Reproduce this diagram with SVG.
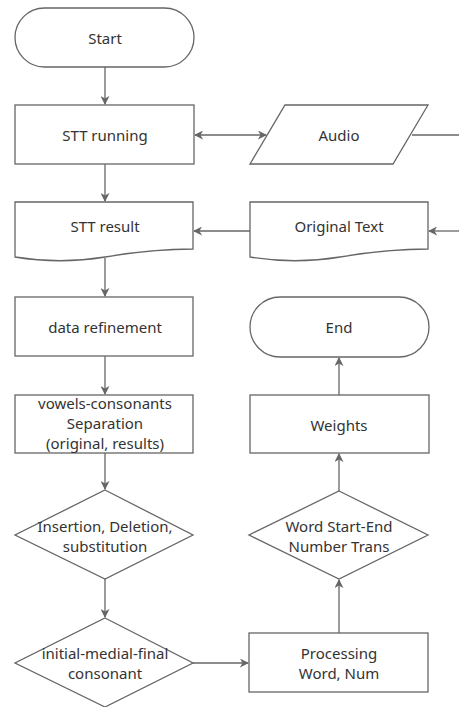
<svg xmlns="http://www.w3.org/2000/svg" width="459" height="707" viewBox="0 0 459 707">
<style>
.s{fill:#fff;stroke:#666;stroke-width:1.3}
.t{font-family:"Noto Sans",sans-serif;font-size:15px;fill:#333;text-anchor:middle;dominant-baseline:central}
.c{fill:none;stroke:#666;stroke-width:1.3}
</style>
<defs>
<marker id="a" viewBox="0 0 10 10" refX="9" refY="5" markerWidth="9" markerHeight="9" markerUnits="userSpaceOnUse" orient="auto-start-reverse">
<path d="M0,0 L10,5 L0,10 L3,5 Z" fill="#666"/>
</marker>
</defs>
<rect width="459" height="707" fill="#fff"/>
<g id="connectors">
<path class="c" d="M105,67 V104" marker-end="url(#a)"/>
<path class="c" d="M195,135 H266" marker-start="url(#a)" marker-end="url(#a)"/>
<path class="c" d="M412,135 H459"/>
<path class="c" d="M459,231 H429" marker-end="url(#a)"/>
<path class="c" d="M250,231 H194" marker-end="url(#a)"/>
<path class="c" d="M105,164 V201" marker-end="url(#a)"/>
<path class="c" d="M105,258 V296" marker-end="url(#a)"/>
<path class="c" d="M105,356 V394" marker-end="url(#a)"/>
<path class="c" d="M105,453 V489" marker-end="url(#a)"/>
<path class="c" d="M105,579 V617" marker-end="url(#a)"/>
<path class="c" d="M193,663 H248" marker-end="url(#a)"/>
<path class="c" d="M339,633 V580" marker-end="url(#a)"/>
<path class="c" d="M339,491 V454" marker-end="url(#a)"/>
<path class="c" d="M339,395 V358" marker-end="url(#a)"/>
</g>
<g id="start"><rect class="s" x="15" y="8" width="179" height="59" rx="29.5"/><text class="t" x="105" y="38">Start</text></g>
<g id="stt-running"><rect class="s" x="15" y="105" width="179" height="59"/><text class="t" x="105" y="135">STT running</text></g>
<g id="audio"><path class="s" d="M285,105 H428 L393,164 H250 Z"/><text class="t" x="339" y="135">Audio</text></g>
<g id="stt-result"><path class="s" d="M15,202 H193 V249 C165,249 135,252 105,257 C75,262 45,262 15,257 Z"/><text class="t" x="105" y="226">STT result</text></g>
<g id="original-text"><path class="s" d="M250,202 H428 V249 C400,249 370,252 340,257 C310,262 280,262 250,257 Z"/><text class="t" x="339" y="226">Original Text</text></g>
<g id="data-refinement"><rect class="s" x="15" y="297" width="178" height="59"/><text class="t" x="105" y="327">data refinement</text></g>
<g id="separation"><rect class="s" x="15" y="395" width="178" height="58"/><text class="t" x="105" y="403">vowels-consonants</text><text class="t" x="105" y="423">Separation</text><text class="t" x="105" y="443">(original, results)</text></g>
<g id="ids"><path class="s" d="M105,490 L193,535 L105,579 L15,535 Z"/><text class="t" x="105" y="526">Insertion, Deletion,</text><text class="t" x="105" y="546">substitution</text></g>
<g id="imf"><path class="s" d="M105,618 L193,663 L105,707 L15,663 Z"/><text class="t" x="105" y="653">initial-medial-final</text><text class="t" x="105" y="673">consonant</text></g>
<g id="processing"><rect class="s" x="249" y="633" width="179" height="59"/><text class="t" x="339" y="653">Processing</text><text class="t" x="339" y="673">Word, Num</text></g>
<g id="word-trans"><path class="s" d="M339,491 L428,535 L339,579 L249,535 Z"/><text class="t" x="339" y="526">Word Start-End</text><text class="t" x="339" y="546">Number Trans</text></g>
<g id="weights"><rect class="s" x="250" y="395" width="179" height="58"/><text class="t" x="339" y="425">Weights</text></g>
<g id="end"><rect class="s" x="250" y="297" width="179" height="60" rx="30"/><text class="t" x="339" y="327">End</text></g>
</svg>
